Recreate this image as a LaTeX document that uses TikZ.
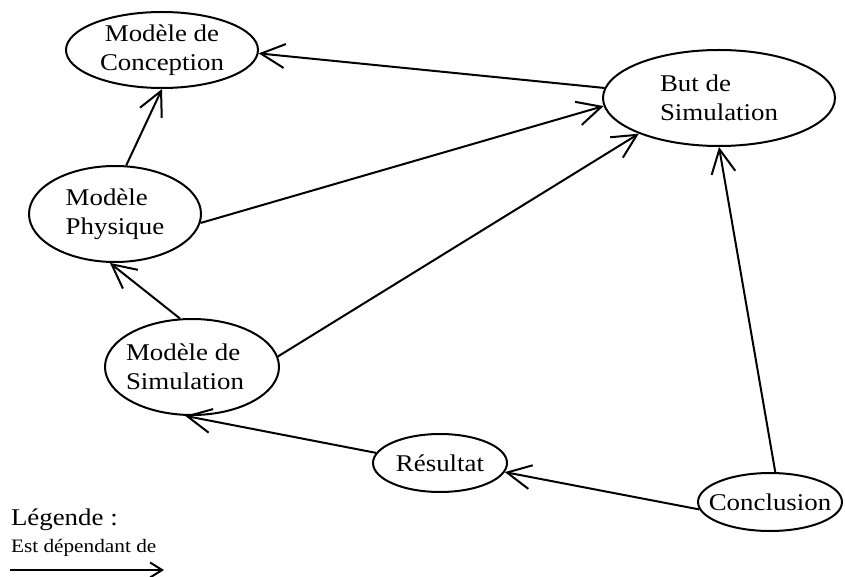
\documentclass[tikz,border=0pt]{standalone}
\usepackage{fontspec}
\setmainfont[FakeStretch=1.12]{Liberation Serif}
\usepackage{tikz}
\usetikzlibrary{arrows.meta,positioning,shapes.geometric}

\begin{document}
\begin{tikzpicture}[x=1pt,y=-1pt,line width=2pt,
    bulle/.style={draw,ellipse,inner sep=0pt,align=center,
        font=\fontsize{24}{29}\selectfont},
    dep/.style={-{Straight Barb[length=24pt,width=24pt,line width=2pt]}},
    legende/.style={-{Straight Barb[length=12pt,width=15pt,line width=2pt]}}]
    \useasboundingbox (0,0) rectangle (845,577);
    \node[bulle,minimum width=192pt,minimum height=76pt] (conception) at (162,50) {Modèle de\\Conception};
    \node[bulle,align=left,minimum width=172pt,minimum height=96pt] (physique) at (115,214) {Modèle\\Physique};
    \node[bulle,align=left,inner xsep=-8pt,minimum width=174pt,minimum height=96pt] (simulation) at (192,367) {Modèle de\\Simulation\hspace*{14pt}};
    \node[bulle,align=left,minimum width=232pt,minimum height=96pt] (but) at (719,98) {But de\\Simulation};
    \node[bulle,minimum width=134pt,minimum height=58pt] (resultat) at (440,463) {Résultat};
    \node[bulle,inner xsep=-12pt,minimum width=144pt,minimum height=58pt] (conclusion) at (770,502) {Conclusion};

    \draw[dep] (but.175) -- (conception.358);
    \draw[dep] (physique.354) -- (but.184);
    \draw[dep] (simulation.7) -- (but.204);
    \draw[dep] (physique.77) -- (conception.south);
    \draw[dep] (simulation.104) -- (physique.264);
    \draw[dep] (resultat.171) -- (simulation.262);
    \draw[dep] (conclusion.186) -- (resultat.352);
    \draw[dep] (conclusion.80) -- (but.south);

    \node[right,inner sep=0pt,font=\fontsize{24}{29}\selectfont] (titre) at (10,520) {Légende :};
    \node[right,inner sep=0pt,font=\fontsize{19}{23}\selectfont] (sens) at (10,548) {Est dépendant de};
    \coordinate (debut) at (10,570);
    \coordinate (fin) at (164,570);
    \draw[legende] (debut) -- (fin);
\end{tikzpicture}
\end{document}
